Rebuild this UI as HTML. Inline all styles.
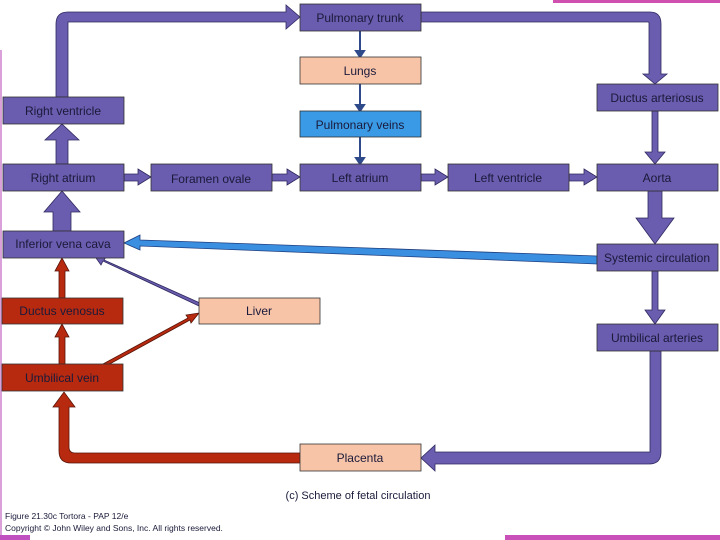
<!DOCTYPE html>
<html><head><style>
body{margin:0;background:#fff;width:720px;height:540px;overflow:hidden}
svg{display:block}
text{font-family:"Liberation Sans",sans-serif;font-size:12px;fill:#1a1a3a}
</style></head><body>
<svg width="720" height="540" viewBox="0 0 720 540">
<rect x="553" y="0" width="167" height="3" fill="#d050b0"/>
<rect x="0" y="50" width="2" height="490" fill="#c060c0" opacity="0.6"/>
<rect x="0" y="535" width="30" height="5" fill="#c050c0"/>
<rect x="505" y="535" width="215" height="5" fill="#c850b8"/>
<g fill="#6a5cae" stroke="#2e2a60" stroke-width="0.8">
<path d="M56,97 V24 Q56,12 68,12 H286 V5 L300,17 L286,29 V22 H68 V97 Z"/>
<path d="M421,12 H650 Q661,12 661,24 V74 H667 L655,84 L643,74 H649 V23 Q649,22 648,22 H421 Z"/>
<path d="M652,111 H658 V152 H665 L655,164 L645,152 H652 Z"/>
<path d="M648,191 H662 V218 H674 L655,244 L636,218 H648 Z"/>
<path d="M652,271 H658 V310 H665 L655,324 L645,310 H652 Z"/>
<path d="M650,351 H661 V452 Q661,464 649,464 H435 V471 L421,458 L435,445 V452 H650 Z"/>
<path d="M56,164 V140 H45 L62,124 L79,140 H68 V164 Z"/>
<path d="M53,231 V212 H44 L62,191 L80,212 H71 V231 Z"/>
<path d="M124,174 H138 V169 L151,177 L138,185 V181 H124 Z"/>
<path d="M272,174 H287 V169 L300,177 L287,185 V181 H272 Z"/>
<path d="M421,174 H435 V169 L448,177 L435,185 V181 H421 Z"/>
<path d="M569,174 H584 V169 L597,177 L584,185 V181 H569 Z"/>
<path d="M199,306 L103,261 L101,265 L96,258 L106,257 L104,260 L200,303 Z"/>
</g>
<path d="M597,256 L140,240 V235 L124,243 L140,250 V246 L597,264 Z" fill="#3a8fe0" stroke="#1f3f80" stroke-width="0.8"/>
<g stroke="#2e4a8a" stroke-width="2" fill="#2e4a8a">
<line x1="360" y1="31" x2="360" y2="52"/><path d="M356,51 L360,57 L364,51 Z"/>
<line x1="360" y1="84" x2="360" y2="106"/><path d="M356,105 L360,111 L364,105 Z"/>
<line x1="360" y1="137" x2="360" y2="159"/><path d="M356,158 L360,164 L364,158 Z"/>
</g>
<g fill="#b82a10" stroke="#5a1408" stroke-width="0.8">
<path d="M59,298 V271 H55 L62,258 L69,271 H65 V298 Z"/>
<path d="M59,364 V337 H55 L62,324 L69,337 H65 V364 Z"/>
<path d="M103,364 L188,318 L186,315 L199,313 L191,323 L190,320 L106,366 Z"/>
<path d="M300,453 H75 Q69,453 69,447 V407 H75 L64,392 L53,407 H59 V451 Q59,463 71,463 H300 Z"/>
</g>
<g stroke="#333" stroke-width="0.8">
<rect x="300" y="4" width="121" height="27" fill="#6a5cae"/>
<rect x="300" y="57" width="121" height="27" fill="#f8c4a8"/>
<rect x="300" y="111" width="121" height="26" fill="#3a9ae6"/>
<rect x="3" y="97" width="121" height="27" fill="#6a5cae"/>
<rect x="3" y="164" width="121" height="27" fill="#6a5cae"/>
<rect x="151" y="164" width="121" height="27" fill="#6a5cae"/>
<rect x="300" y="164" width="121" height="27" fill="#6a5cae"/>
<rect x="448" y="164" width="121" height="27" fill="#6a5cae"/>
<rect x="597" y="164" width="121" height="27" fill="#6a5cae"/>
<rect x="597" y="84" width="121" height="27" fill="#6a5cae"/>
<rect x="3" y="231" width="121" height="27" fill="#6a5cae"/>
<rect x="597" y="244" width="121" height="27" fill="#6a5cae"/>
<rect x="2" y="298" width="121" height="26" fill="#b82a10"/>
<rect x="199" y="298" width="121" height="26" fill="#f8c4a8"/>
<rect x="2" y="364" width="121" height="27" fill="#b82a10"/>
<rect x="597" y="324" width="121" height="27" fill="#6a5cae"/>
<rect x="300" y="444" width="121" height="27" fill="#f8c4a8"/>
</g>
<g text-anchor="middle">
<text x="360" y="22">Pulmonary trunk</text>
<text x="360" y="75">Lungs</text>
<text x="360" y="129">Pulmonary veins</text>
<text x="63" y="115">Right ventricle</text>
<text x="63" y="182">Right atrium</text>
<text x="211" y="183">Foramen ovale</text>
<text x="360" y="182">Left atrium</text>
<text x="508" y="182">Left ventricle</text>
<text x="657" y="182">Aorta</text>
<text x="657" y="102">Ductus arteriosus</text>
<text x="63" y="248">Inferior vena cava</text>
<text x="657" y="262">Systemic circulation</text>
<text x="62" y="315">Ductus venosus</text>
<text x="259" y="315">Liver</text>
<text x="62" y="382">Umbilical vein</text>
<text x="657" y="342">Umbilical arteries</text>
<text x="360" y="462">Placenta</text>
<text x="358" y="499" style="font-size:11px">(c) Scheme of fetal circulation</text>
</g>
<text x="5" y="519" style="font-size:8.5px">Figure 21.30c  Tortora - PAP 12/e</text>
<text x="5" y="531" style="font-size:8.5px">Copyright © John Wiley and Sons, Inc. All rights reserved.</text>
</svg>
</body></html>
